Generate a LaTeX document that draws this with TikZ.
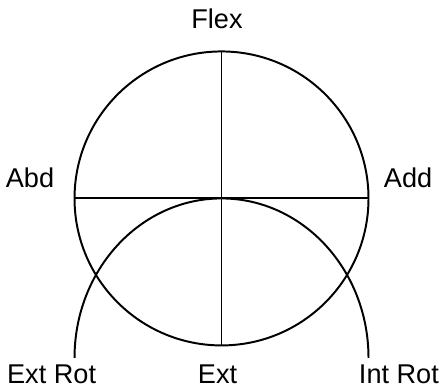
\documentclass[tikz,border=0pt]{standalone}
\usepackage{fontspec}
\setmainfont{Liberation Sans}
\usepackage{tikz}
\usetikzlibrary{calc}
\tikzset{lbl/.style={anchor=base,inner sep=0pt,font=\fontsize{19.3}{23}\selectfont}}

\begin{document}
\begin{tikzpicture}[scale=3.675,line width=1.4pt]
\useasboundingbox (-1.507,-1.289) rectangle (1.5,1.35);
\def\ry{1.085}
\coordinate (O) at (0,0);
\draw (O) circle (1);
\draw (0,1) -- (0,-1);
\draw (-1,0) -- (1,0);
\draw (-1,-\ry) arc (180:0:1 and \ry);
\node[lbl] (flex) at (-0.031,1.153) {Flex};
\node[lbl] (abd) at (-1.303,0.071) {Abd};
\node[lbl] (add) at (1.269,0.071) {Add};
\node[lbl] (extrot) at (-1.156,-1.262) {Ext Rot};
\node[lbl] (ext) at (-0.027,-1.262) {Ext};
\node[lbl] (introt) at (1.207,-1.262) {Int Rot};
\end{tikzpicture}
\end{document}
